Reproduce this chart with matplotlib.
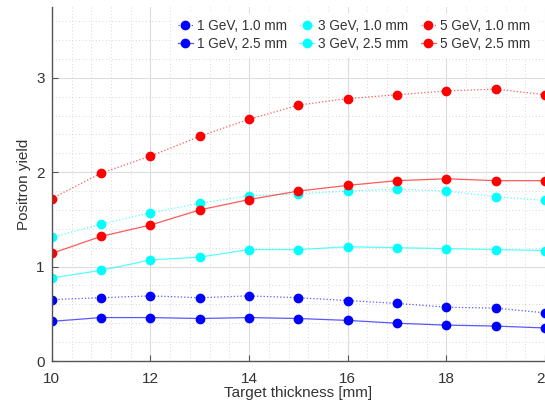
import matplotlib
matplotlib.use("Agg")
import matplotlib.pyplot as plt
from matplotlib.colors import to_rgba
from matplotlib.ticker import MultipleLocator

thickness = [10, 11, 12, 13, 14, 15, 16, 17, 18, 19, 20]

# yields (1.0 mm dotted, 2.5 mm solid)
y_1gev_10 = [0.65, 0.67, 0.69, 0.67, 0.69, 0.67, 0.64, 0.61, 0.57, 0.56, 0.51]
y_1gev_25 = [0.42, 0.46, 0.46, 0.45, 0.46, 0.45, 0.43, 0.40, 0.38, 0.37, 0.35]
y_3gev_10 = [1.31, 1.45, 1.57, 1.67, 1.75, 1.77, 1.80, 1.82, 1.80, 1.74, 1.70]
y_3gev_25 = [0.88, 0.96, 1.07, 1.10, 1.18, 1.18, 1.21, 1.20, 1.19, 1.18, 1.17]
y_5gev_10 = [1.72, 1.99, 2.17, 2.38, 2.56, 2.71, 2.78, 2.82, 2.86, 2.88, 2.82]
y_5gev_25 = [1.14, 1.32, 1.44, 1.60, 1.71, 1.80, 1.86, 1.91, 1.93, 1.91, 1.91]

series = [
    ("1 GeV, 1.0 mm", y_1gev_10, "#0000ff", ":"),
    ("1 GeV, 2.5 mm", y_1gev_25, "#0000ff", "-"),
    ("3 GeV, 1.0 mm", y_3gev_10, "#00ffff", ":"),
    ("3 GeV, 2.5 mm", y_3gev_25, "#00ffff", "-"),
    ("5 GeV, 1.0 mm", y_5gev_10, "#ff0000", ":"),
    ("5 GeV, 2.5 mm", y_5gev_25, "#ff0000", "-"),
]

plt.rcParams["font.family"] = ["Liberation Sans", "DejaVu Sans"]

fig = plt.figure(figsize=(5.45, 4.07), dpi=100)
ax = fig.add_axes([0.095, 0.113, 0.905, 0.87])

for label, ys, color, ls in series:
    ax.plot(thickness, ys, linestyle=ls, color=to_rgba(color, 0.65), lw=0.9,
            marker="o", markersize=6, markerfacecolor=color,
            markeredgecolor=color, label=label)

ax.set_xlim(10, 20)
ax.set_ylim(0, 3.75)
ax.xaxis.set_major_locator(MultipleLocator(2))
ax.xaxis.set_minor_locator(MultipleLocator(0.4))
ax.yaxis.set_major_locator(MultipleLocator(1))
ax.yaxis.set_minor_locator(MultipleLocator(0.2))

ax.grid(which="major", color="#dddddd", lw=0.8, ls="-")
ax.grid(which="minor", color="#cccccc", lw=0.6, ls=(0, (1, 3)))
ax.set_axisbelow(True)

for side in ["top", "right"]:
    ax.spines[side].set_visible(False)
for side in ["left", "bottom"]:
    ax.spines[side].set_color("#555555")
    ax.spines[side].set_linewidth(1.0)

ax.tick_params(which="major", direction="in", length=4, color="#555555",
               labelsize=11, labelcolor="#333333", pad=5)
ax.tick_params(axis="x", which="major", pad=8)
ax.tick_params(which="minor", length=0)

ax.set_xlabel("Target thickness [mm]", fontsize=11, color="#333333", labelpad=0)
ax.set_ylabel("Positron yield", fontsize=11, color="#333333", labelpad=4)

leg = ax.legend(ncol=3, loc="upper right", bbox_to_anchor=(0.995, 1.0),
                fontsize=9.8, frameon=True, fancybox=False, handlelength=1.1,
                handletextpad=0.3, columnspacing=0.9, labelspacing=0.3,
                borderpad=0.4)
leg.get_frame().set_edgecolor("white")
leg.get_frame().set_facecolor("white")
leg.get_frame().set_alpha(1.0)
for t in leg.get_texts():
    t.set_color("#333333")

fig.savefig("out.png", dpi=100)
